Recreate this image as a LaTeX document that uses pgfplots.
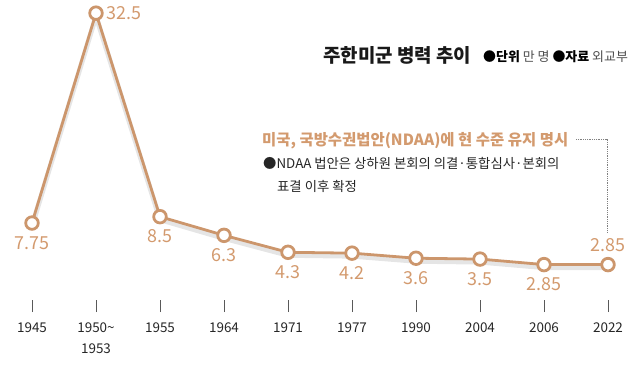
\documentclass[border=0pt]{standalone}
\usepackage{fontspec}
\setmainfont{Noto Sans CJK KR}
\usepackage{pgfplots}
\pgfplotsset{compat=1.18}
\definecolor{tanline}{HTML}{CC966C}
\definecolor{tanlab}{HTML}{D39A6E}
\begin{document}
\begin{tikzpicture}[x=1bp,y=1bp]
\useasboundingbox (0,0) rectangle (640,-383);
\begin{axis}[
  at={(0,-368)}, anchor=south west,
  scale only axis, x=64bp, y=8.48bp,
  xmin=-0.5, xmax=9.5, ymin=-2.75, ymax=34,
  clip=false,
  axis x line*=bottom, axis y line=none,
  x axis line style={draw=none},
  xtick={0,...,9},
  xticklabels={1945,{1950\textasciitilde\\1953},1955,1964,1971,1977,1990,2004,2006,2022},
  xtick align=inside, major tick length=12bp,
  xtick style={draw=black!65, line width=0.9pt},
  xticklabel style={align=center, yshift=-7bp, font=\fontsize{13.5}{21}\selectfont, text=black!85},
  every node near coord/.append style={font=\fontsize{18}{20}\selectfont, text=tanlab, inner sep=0pt},
]
% soft shadow
\addplot[black, opacity=0.10, line width=5pt, yshift=-3bp, mark=none] coordinates {(0,7.75) (1,32.5) (2,8.5) (3,6.3) (4,4.3) (5,4.2) (6,3.6) (7,3.5) (8,2.85) (9,2.85)};
\addplot[tanline, line width=2.8pt, mark=*, mark size=6.3bp,
  mark options={fill=white, draw=tanline, line width=2.8pt}]
  coordinates {(0,7.75) (1,32.5) (2,8.5) (3,6.3) (4,4.3) (5,4.2) (6,3.6) (7,3.5) (8,2.85) (9,2.85)};
% labels below
\addplot[draw=none, mark=none, nodes near coords, point meta=explicit symbolic,
  every node near coord/.append style={anchor=north, yshift=-13bp}]
  table[meta=l] {
x y l
0 7.75 7.75
2 8.5 8.5
3 6.3 6.3
4 4.3 4.3
5 4.2 4.2
6 3.6 3.6
7 3.5 3.5
8 2.85 2.85
};
% label right
\addplot[draw=none, mark=none, nodes near coords, point meta=explicit symbolic,
  every node near coord/.append style={anchor=west, xshift=10bp}]
  table[meta=l] {
x y l
1 32.5 32.5
};
% label above
\addplot[draw=none, mark=none, nodes near coords, point meta=explicit symbolic,
  every node near coord/.append style={anchor=south, yshift=13bp}]
  table[meta=l] {
x y l
9 2.85 2.85
};
\end{axis}
% titles
\node[anchor=base west, inner sep=0pt, text=black!90, font=\fontsize{19}{22}\selectfont\bfseries] at (323,-62) {주한미군 병력 추이};
\node[anchor=base west, inner sep=0pt, font=\fontsize{13}{15}\selectfont] at (483,-61) {\textbf{●단위} \textcolor{black!70}{만 명} \textbf{●자료} \textcolor{black!70}{외교부}};
\node[anchor=base west, inner sep=0pt, text=tanlab, font=\fontsize{15.5}{18}\selectfont\bfseries] at (262,-145) {미국, 국방수권법안(NDAA)에 현 수준 유지 명시};
\node[anchor=base west, inner sep=0pt, text=black!85, font=\fontsize{13.4}{15}\selectfont] at (263,-168) {●NDAA 법안은 상하원 본회의 의결·통합심사·본회의};
\node[anchor=base west, inner sep=0pt, text=black!85, font=\fontsize{13.4}{15}\selectfont] at (277,-191) {표결 이후 확정};
\draw[black!50, densely dotted, line width=0.8pt] (576,-139) -- (607,-139) -- (607,-233);
\end{tikzpicture}
\end{document}
